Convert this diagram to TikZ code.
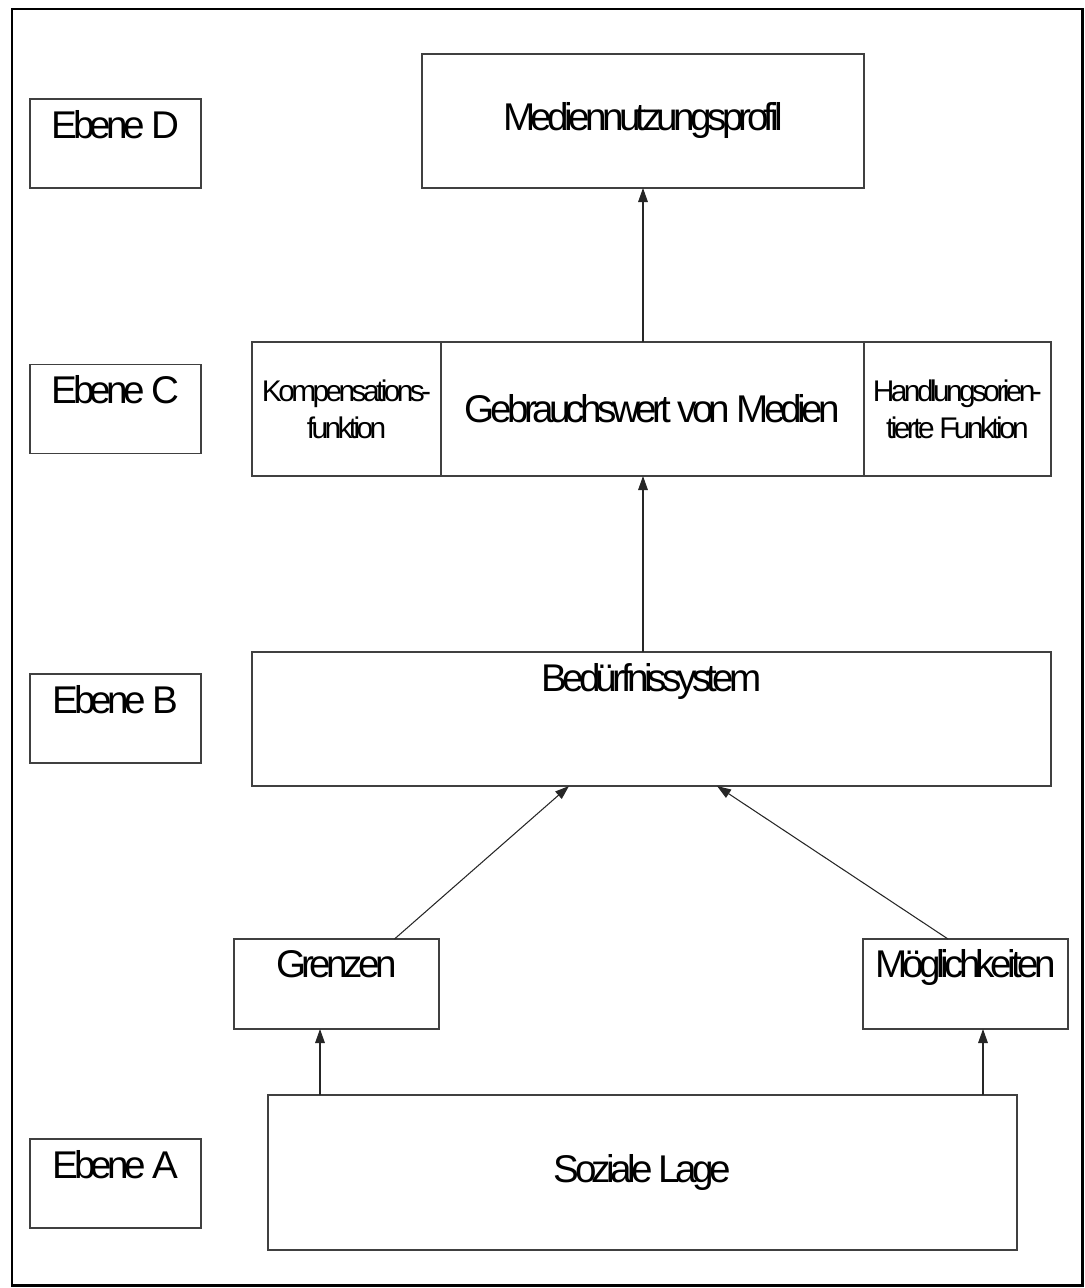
\documentclass[tikz,border=0pt]{standalone}
\usepackage{fontspec}
\setmainfont{Liberation Sans}[LetterSpace=-12]
\usetikzlibrary{arrows.meta,positioning}

\begin{document}
\begin{tikzpicture}[x=0.02cm,y=-0.02cm,>={Triangle[length=8pt,width=5.5pt]},
    box/.style={draw=black!75,line width=0.8pt,rectangle,inner sep=0pt,outer sep=0pt,
                font=\fontsize{22}{26}\selectfont,align=center},
    ebene/.style={box,minimum width=3.42cm,text height=0.78cm,text depth=1cm},
    klein/.style={font=\fontsize{17}{21}\selectfont},
    pfeil/.style={->,draw=black!85,line width=0.6pt}]
  \useasboundingbox (0,0) rectangle (1085,1288);
  \draw[line width=1.7pt] (12,9) rectangle (1082,1285);

  % Ebenen links
  \node[ebene] (ebD) at (115.5,143.5) {Ebene D};
  \node[ebene] (ebC) at (115.5,409)   {Ebene C};
  \node[ebene] (ebB) at (115.5,718.5) {Ebene B};
  \node[ebene] (ebA) at (115.5,1183.5) {Ebene A};

  % Modell
  \node[box,minimum width=8.84cm,minimum height=2.68cm] (med) at (643,121) {Mediennutzungsprofil};
  \node[box,minimum width=8.46cm,minimum height=2.68cm] (gebr) at (652.5,409) {Gebrauchswert von Medien};
  \node[box,klein,minimum width=3.78cm,minimum height=2.68cm] (komp) [left=0pt of gebr] {Kompensations-\\funktion};
  \node[box,klein,minimum width=3.74cm,minimum height=2.68cm] (handl) [right=0pt of gebr] {Handlungsorien-\\tierte Funktion};
  \node[box,minimum width=15.98cm,text height=0.78cm,text depth=1.9cm] (bed) at (651.5,719) {Bedürfnissystem};
  \node[box,minimum width=4.1cm,text height=0.76cm,text depth=1.04cm] (grenz) at (336.5,984) {Grenzen};
  \node[box,minimum width=4.1cm,text height=0.76cm,text depth=1.04cm] (moegl) at (965.5,984) {Möglichkeiten};
  \node[box,minimum width=14.98cm,minimum height=3.1cm] (soz) at (642.5,1172.5) {Soziale Lage};

  \draw[pfeil] (gebr.north -| med.south) -- (med.south);
  \draw[pfeil] (bed.north -| med.south) -- (gebr.south -| med.south);
  \draw[pfeil] ([xshift=1.16cm]grenz.north) -- ([xshift=-1.65cm]bed.south);
  \draw[pfeil] ([xshift=-0.35cm]moegl.north) -- ([xshift=1.31cm]bed.south);
  \draw[pfeil] ([xshift=-0.33cm]grenz.south |- soz.north) -- ([xshift=-0.33cm]grenz.south);
  \draw[pfeil] ([xshift=0.35cm]moegl.south |- soz.north) -- ([xshift=0.35cm]moegl.south);
\end{tikzpicture}
\end{document}
